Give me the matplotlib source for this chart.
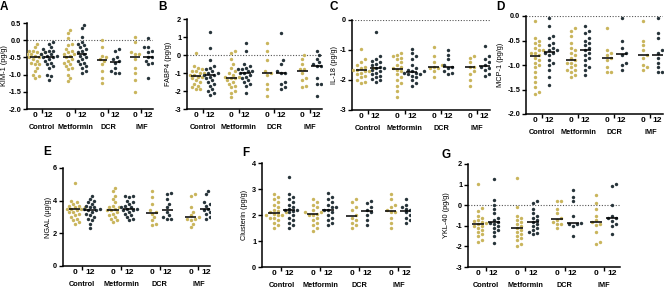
import numpy as np
import matplotlib
matplotlib.use("Agg")
import matplotlib.pyplot as plt

plt.rcParams['font.family'] = ['Liberation Sans', 'DejaVu Sans']
plt.rcParams['axes.unicode_minus'] = False

groups = ["Control", "Metformin", "DCR", "IMF"]
timepoints = ["0", "12"]

# ---- data (log-scaled biomarker values) ----
kim1_0 = [[-0.1, -0.2, -0.3, -0.3, -0.35, -0.35, -0.4, -0.4, -0.4, -0.45, -0.5, -0.5, -0.55, -0.6, -0.65, -0.7, -0.7, -0.8, -0.9, -1.0, -1.05, -1.1],
          [0.3, 0.2, 0.05, -0.1, -0.15, -0.25, -0.3, -0.35, -0.4, -0.4, -0.45, -0.5, -0.55, -0.6, -0.65, -0.7, -0.75, -0.8, -0.85, -1.0, -1.1, -1.2],
          [0.0, -0.2, -0.45, -0.5, -0.55, -0.6, -0.7, -0.9, -1.1, -1.25],
          [0.1, -0.05, -0.35, -0.4, -0.4, -0.55, -0.8, -0.95, -1.15, -1.5]]
kim1_12 = [[-0.05, -0.1, -0.2, -0.25, -0.3, -0.3, -0.35, -0.4, -0.4, -0.45, -0.45, -0.5, -0.5, -0.55, -0.6, -0.65, -0.7, -0.75, -0.8, -1.0, -1.05, -1.15],
           [0.45, 0.35, 0.1, -0.05, -0.1, -0.15, -0.2, -0.25, -0.3, -0.35, -0.4, -0.45, -0.5, -0.55, -0.6, -0.65, -0.7, -0.75, -0.8, -0.9, -0.95],
           [-0.25, -0.3, -0.5, -0.55, -0.6, -0.65, -0.8, -0.9, -0.95, -0.95],
           [0.05, -0.2, -0.2, -0.3, -0.35, -0.5, -0.5, -0.6, -0.65, -0.7, -1.1]]

fabp4_0 = [[0.1, -0.6, -0.7, -0.8, -0.9, -0.9, -1.0, -1.0, -1.1, -1.1, -1.2, -1.3, -1.4, -1.5, -1.6, -1.7, -1.8, -1.9, -1.9, -1.2],
           [0.2, 0.1, -0.2, -0.5, -0.7, -0.9, -1.0, -1.1, -1.2, -1.3, -1.3, -1.4, -1.5, -1.6, -1.7, -1.8, -2.0, -2.1, -2.35, -1.2],
           [0.65, 0.25, -0.3, -0.9, -1.0, -1.1, -1.6, -1.9, -2.25],
           [0.0, -0.2, -0.5, -0.8, -0.8, -1.0, -1.3, -1.4, -1.7, -1.8]]
fabp4_12 = [[1.3, 0.4, -0.3, -0.6, -0.7, -0.8, -0.9, -1.0, -1.0, -1.1, -1.2, -1.3, -1.4, -1.5, -1.6, -1.7, -1.9, -2.0, -2.1, -2.2, -1.1],
            [0.65, 0.2, -0.5, -0.6, -0.7, -0.8, -0.8, -0.9, -0.9, -1.0, -1.0, -1.1, -1.2, -1.3, -1.4, -1.5, -1.6, -1.7, -2.1],
            [1.2, -0.3, -0.5, -0.9, -1.0, -1.0, -1.5, -1.6, -1.8, -1.9],
            [0.2, 0.0, -0.2, -0.4, -0.5, -0.6, -0.6, -1.3, -1.6, -1.6, -2.25]]

il18_0 = [[-0.95, -1.3, -1.4, -1.5, -1.55, -1.6, -1.6, -1.65, -1.7, -1.7, -1.75, -1.8, -1.85, -1.9, -2.0, -2.05, -2.1, -1.65, -1.6],
          [-1.1, -1.15, -1.2, -1.3, -1.4, -1.5, -1.55, -1.6, -1.65, -1.7, -1.8, -1.9, -2.0, -2.1, -2.2, -2.35, -2.55, -1.25],
          [-0.9, -1.2, -1.4, -1.5, -1.55, -1.6, -1.6, -1.7, -1.9],
          [-1.2, -1.25, -1.4, -1.55, -1.55, -1.7, -1.8, -2.0, -2.2]]
il18_12 = [[-0.4, -1.2, -1.3, -1.35, -1.4, -1.45, -1.5, -1.55, -1.6, -1.6, -1.65, -1.7, -1.75, -1.8, -1.85, -1.9, -1.95, -2.0, -2.05],
           [-0.95, -1.1, -1.2, -1.3, -1.5, -1.6, -1.65, -1.7, -1.7, -1.75, -1.75, -1.8, -1.8, -1.85, -1.9, -2.0, -2.1, -2.2],
           [-1.0, -1.15, -1.3, -1.5, -1.55, -1.6, -1.7, -1.75, -1.8],
           [-0.85, -1.2, -1.3, -1.4, -1.5, -1.55, -1.6, -1.65, -1.8, -1.85]]

mcp1_0 = [[-0.1, -0.45, -0.5, -0.55, -0.6, -0.65, -0.7, -0.7, -0.75, -0.75, -0.8, -0.85, -0.9, -0.95, -1.0, -1.05, -1.15, -1.25, -1.35, -1.45, -1.55, -1.6],
          [-0.25, -0.3, -0.4, -0.55, -0.65, -0.7, -0.75, -0.8, -0.85, -0.9, -0.95, -0.95, -1.0, -1.05, -1.1, -1.1, -1.15, -1.2, -1.25],
          [-0.25, -0.7, -0.75, -0.8, -0.85, -0.9, -1.05, -1.15, -1.15],
          [-0.1, -0.5, -0.6, -0.7, -0.8, -0.85, -1.0, -1.05, -1.1]]
mcp1_12 = [[-0.05, -0.2, -0.4, -0.45, -0.55, -0.6, -0.65, -0.7, -0.7, -0.75, -0.75, -0.8, -0.9, -0.95, -1.0, -1.1, -1.25, -1.4],
           [-0.2, -0.3, -0.35, -0.45, -0.5, -0.55, -0.6, -0.65, -0.7, -0.75, -0.8, -0.85, -0.9, -1.0, -1.05, -1.1, -1.2],
           [-0.05, -0.5, -0.65, -0.75, -0.8, -0.95, -1.0, -1.1],
           [-0.05, -0.35, -0.45, -0.7, -0.75, -0.85, -0.95, -1.05, -1.15, -1.15]]

ngal_0 = [[5.1, 4.0, 3.9, 3.8, 3.7, 3.6, 3.6, 3.5, 3.5, 3.4, 3.3, 3.2, 3.1, 3.0, 2.9, 2.8, 2.7, 2.6, 3.5, 3.7, 3.3],
          [4.8, 4.6, 4.3, 4.1, 3.9, 3.7, 3.6, 3.5, 3.4, 3.3, 3.2, 3.1, 3.0, 2.9, 2.8, 2.7, 3.4, 3.6],
          [4.6, 4.2, 3.8, 3.4, 3.3, 3.2, 3.0, 2.8, 2.6, 2.5],
          [4.4, 4.3, 3.6, 3.3, 3.1, 3.0, 2.9, 2.9, 2.8, 2.6, 2.4]]
ngal_12 = [[4.3, 4.1, 4.0, 3.9, 3.8, 3.7, 3.6, 3.5, 3.4, 3.3, 3.2, 3.1, 3.0, 2.9, 2.8, 2.6, 2.3, 3.5, 3.4, 3.6],
           [4.3, 4.3, 4.2, 4.0, 3.9, 3.8, 3.7, 3.6, 3.5, 3.4, 3.3, 3.2, 3.1, 3.0, 2.9, 2.8, 3.5, 3.6, 3.4],
           [4.5, 4.4, 4.1, 3.8, 3.6, 3.3, 3.1, 3.0, 2.9, 2.9],
           [4.6, 4.4, 3.9, 3.8, 3.7, 3.5, 3.4, 3.3, 3.2, 3.0, 2.9]]

clus_0 = [[2.8, 2.7, 2.6, 2.5, 2.4, 2.3, 2.2, 2.1, 2.1, 2.0, 2.0, 2.0, 1.9, 1.9, 1.8, 1.7, 1.6, 1.5, 2.05, 2.15],
          [2.6, 2.5, 2.4, 2.3, 2.2, 2.1, 2.1, 2.0, 2.0, 1.9, 1.8, 1.7, 1.6, 1.5, 1.4, 2.05],
          [2.6, 2.5, 2.3, 2.2, 2.0, 1.9, 1.8, 1.7, 1.6, 1.5],
          [2.8, 2.6, 2.4, 2.3, 2.2, 2.1, 2.1, 1.9, 1.7, 1.5]]
clus_12 = [[3.45, 2.8, 2.7, 2.6, 2.5, 2.4, 2.3, 2.2, 2.2, 2.1, 2.0, 1.9, 1.8, 1.7, 1.6, 1.5, 2.15, 2.25],
           [2.85, 2.7, 2.6, 2.5, 2.4, 2.3, 2.2, 2.2, 2.1, 2.0, 1.9, 1.8, 1.7, 1.6, 2.3],
           [2.55, 2.45, 2.3, 2.2, 2.1, 2.0, 1.8, 1.6],
           [2.6, 2.4, 2.3, 2.2, 2.1, 2.0, 1.9, 1.8, 1.7, 2.25]]

ykl_0 = [[1.05, -0.15, -0.3, -0.5, -0.6, -0.7, -0.8, -0.85, -0.9, -1.0, -1.0, -1.1, -1.2, -1.3, -1.4, -1.5, -1.7, -1.8, -0.75],
         [1.3, -0.1, -0.5, -0.6, -0.7, -0.9, -1.0, -1.1, -1.2, -1.3, -1.4, -1.5, -1.6, -1.7, -1.9, -2.0, -0.8],
         [0.2, 0.2, -0.2, -0.4, -0.6, -0.7, -0.8, -0.9, -0.9, -1.1],
         [0.5, 0.1, -0.2, -0.5, -0.7, -0.8, -0.9, -1.3, -1.8, -1.9, -0.95]]
ykl_12 = [[1.25, 0.25, 0.0, -0.2, -0.4, -0.6, -0.7, -0.8, -0.9, -1.0, -1.1, -1.2, -1.3, -1.5, -1.85, -0.85],
          [0.2, 0.1, -0.2, -0.4, -0.5, -0.6, -0.7, -0.8, -0.9, -1.0, -1.1, -1.2, -1.3, -1.35, -1.4],
          [0.75, 0.4, 0.2, -0.5, -0.85, -0.9, -0.9, -1.0, -1.5],
          [1.05, 0.95, 0.0, -0.5, -0.6, -0.6, -0.75, -0.9, -1.0, -1.4]]

COL0 = "#c9b55c"
COL12 = "#27343a"

W, H = 669, 293
fig = plt.figure(figsize=(W / 100, H / 100), dpi=100)


def px_axes(left, right, top, bottom):
    return fig.add_axes([left / W, 1 - bottom / H, (right - left) / W, (bottom - top) / H])


def swarm_offsets(vals, ylim, hpx, xscale_px, dmin=3.8):
    vals = np.asarray(vals, float)
    ypx = (vals - ylim[0]) / (ylim[1] - ylim[0]) * hpx
    order = np.argsort(ypx)
    placed = []
    offs = np.zeros(len(vals))
    cand = [0.0]
    for k in range(1, 14):
        cand += [k * 2.0, -k * 2.0]
    for i in order:
        for c in cand:
            ok = True
            for (px, py) in placed:
                if (px - c) ** 2 + (py - ypx[i]) ** 2 < dmin ** 2:
                    ok = False
                    break
            if ok:
                offs[i] = c
                placed.append((c, ypx[i]))
                break
    return offs / xscale_px


def panel(box, d0, d12, ylim, yticks, fmt, ylabel, letter, letter_xy, ylabel_cx,
          zero_line=True, xlim=(-0.45, 3.35)):
    left, right, top, bottom = box
    ax = px_axes(left, right, top, bottom)
    hpx = bottom - top
    xscale_px = (right - left) / (xlim[1] - xlim[0])
    pos = np.arange(len(groups))
    if zero_line:
        ax.axhline(0, color="#555555", lw=0.8, ls=(0, (1, 1.5)), zorder=1)
    for i in range(len(groups)):
        for data, dx, col in ((d0[i], -0.2, COL0), (d12[i], 0.2, COL12)):
            offs = swarm_offsets(data, ylim, hpx, xscale_px)
            x = pos[i] + dx + offs
            ax.scatter(x, data, s=6, color=col, linewidths=0, zorder=3)
            med = np.median(data)
            ax.plot([pos[i] + dx - 0.15, pos[i] + dx + 0.15], [med, med],
                     color="black", lw=1.1, zorder=4, solid_capstyle="butt")
    ax.set_xlim(*xlim)
    ax.set_ylim(*ylim)
    for s in ("top", "right"):
        ax.spines[s].set_visible(False)
    for s in ("left", "bottom"):
        ax.spines[s].set_linewidth(1.1)
    ax.set_yticks(yticks)
    ax.set_yticklabels([fmt.format(v) for v in yticks], fontsize=5.3, fontweight="bold")
    ax.tick_params(axis="y", length=3, width=1.0, pad=1.2)
    ax.set_xticks(pos)
    ax.set_xticklabels(groups, fontsize=5.3, fontweight="bold")
    ax.tick_params(axis="x", which="major", length=3, width=1.0, pad=8)
    minor_pos = np.concatenate([pos - 0.2, pos + 0.2])
    minor_lab = [timepoints[0]] * len(pos) + [timepoints[1]] * len(pos)
    ax.set_xticks(minor_pos, minor=True)
    ax.set_xticklabels(minor_lab, minor=True, fontsize=6, fontweight="bold")
    ax.tick_params(axis="x", which="minor", length=0, pad=2.5)
    ax.set_ylabel(ylabel, fontsize=5.3)
    ax.yaxis.set_label_coords((ylabel_cx + 3.5 - left) / (right - left), 0.5)
    fig.text(letter_xy[0] / W, 1 - letter_xy[1] / H, letter, fontsize=8.5,
             fontweight="bold", ha="left", va="center")
    return ax


panel((27, 153, 23, 109), kim1_0, kim1_12, (-2.0, 0.5), [0.5, 0.0, -0.5, -1.0, -1.5, -2.0],
      "{:.1f}", "KIM-1 (pg/g)", "A", (0, 7), 5)
panel((187, 322, 19, 109), fabp4_0, fabp4_12, (-3, 2), [2, 1, 0, -1, -2, -3],
      "{:d}", "FABP4 (pg/g)", "B", (158, 7), 169)
panel((352, 490, 20, 110), il18_0, il18_12, (-3, 0), [0, -1, -2, -3],
      "{:d}", "IL-18 (pg/g)", "C", (330, 7), 334)
panel((526, 663, 16, 114), mcp1_0, mcp1_12, (-2.0, 0.0), [0.0, -0.5, -1.0, -1.5, -2.0],
      "{:.1f}", "MCP-1 (pg/g)", "D", (496, 6.5), 501)
panel((63, 210, 168, 266), ngal_0, ngal_12, (0, 6), [0, 2, 4, 6],
      "{:d}", "NGAL (\u03bcg/g)", "E", (43, 152), 49, zero_line=False, xlim=(-0.5, 3.3))
panel((262, 410, 163, 267), clus_0, clus_12, (0, 4), [0, 1, 2, 3, 4],
      "{:d}", "Clusterin (pg/g)", "F", (242, 153), 245, zero_line=False, xlim=(-0.5, 3.3))
panel((468, 620, 164, 267), ykl_0, ykl_12, (-3, 2), [2, 1, 0, -1, -2, -3],
      "{:d}", "YKL-40 (pg/g)", "G", (442, 155), 447, xlim=(-0.45, 3.4))

fig.savefig("out.png", dpi=100)
